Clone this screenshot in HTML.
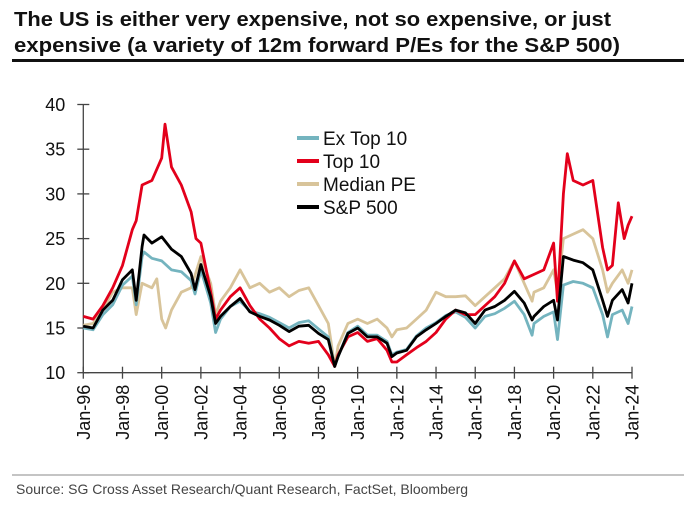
<!DOCTYPE html>
<html><head><meta charset="utf-8"><style>
body{margin:0;background:#fff;width:684px;height:504px;overflow:hidden;font-family:"Liberation Sans",sans-serif}
</style></head><body>
<svg id="chart" width="684" height="504" xmlns="http://www.w3.org/2000/svg">
<text x="14" y="26" font-size="20" font-weight="bold" fill="#111" textLength="597" lengthAdjust="spacingAndGlyphs">The US is either very expensive, not so expensive, or just</text>
<text x="14" y="52" font-size="20" font-weight="bold" fill="#111" textLength="606" lengthAdjust="spacingAndGlyphs">expensive (a variety of 12m forward P/Es for the S&amp;P 500)</text>
<rect x="12" y="59" width="672" height="3" fill="#111"/>
<g id="axes"></g>
<g id="series"></g>
<g id="legend"></g>
<line x1="12" y1="475" x2="684" y2="475" stroke="#888" stroke-width="1"/>
<text x="16" y="494" font-size="14" fill="#444">Source: SG Cross Asset Research/Quant Research, FactSet, Bloomberg</text>
</svg>
<script>
const yTicks=[10,15,20,25,30,35,40];
const xTickYears=[1996,1998,2000,2002,2004,2006,2008,2010,2012,2014,2016,2018,2020,2022,2024];
const xTickLabels=["Jan-96","Jan-98","Jan-00","Jan-02","Jan-04","Jan-06","Jan-08","Jan-10","Jan-12","Jan-14","Jan-16","Jan-18","Jan-20","Jan-22","Jan-24"];
const seriesNames=["Ex Top 10","Top 10","Median PE","S&P 500"];
const datesSP=[1996,1996.5,1997,1997.5,1998,1998.5,1998.7,1999,1999.1,1999.5,2000,2000.5,2001,2001.5,2001.7,2002,2002.5,2002.75,2003,2003.5,2004,2004.5,2005,2005.5,2006,2006.5,2007,2007.5,2008,2008.5,2008.83,2009,2009.5,2010,2010.5,2011,2011.5,2011.75,2012,2012.5,2013,2013.5,2014,2014.5,2015,2015.5,2016,2016.5,2017,2017.5,2018,2018.5,2018.9,2019,2019.5,2020,2020.2,2020.5,2021,2021.5,2022,2022.5,2022.75,2023,2023.5,2023.8,2024];
const valsSP=[15.2,15.0,17.0,18.1,20.4,21.5,18.1,24.1,25.4,24.5,25.2,23.8,23.0,21.1,19.3,22.1,18.5,15.5,16.3,17.4,18.3,16.8,16.3,15.9,15.3,14.6,15.2,15.3,14.4,13.7,10.7,11.8,14.4,15.0,14.0,14.0,13.3,11.8,12.2,12.5,14.0,14.8,15.5,16.3,17.0,16.7,15.5,17.0,17.4,18.1,19.1,17.8,15.9,16.3,17.4,18.1,15.9,23.0,22.6,22.3,21.5,18.1,16.3,18.1,19.3,17.8,20.0];
const valsEx=[15.0,14.8,16.5,17.6,19.8,20.8,17.6,23.0,23.5,22.8,22.5,21.5,21.3,20.3,18.8,21.5,17.8,14.5,16.0,17.4,18.0,16.9,16.6,16.2,15.6,15.0,15.6,15.8,14.9,14.0,10.7,11.8,14.5,15.2,14.2,14.2,13.5,12.0,12.3,12.6,14.1,15.0,15.6,16.4,16.8,16.2,15.0,16.3,16.6,17.2,18.0,16.5,14.2,15.5,16.3,16.8,13.7,19.8,20.2,20.0,19.5,16.5,14.0,16.5,17.0,15.5,17.4];
const datesTop=[1996,1996.5,1997,1997.5,1998,1998.5,1998.7,1999,1999.5,2000,2000.17,2000.5,2001,2001.5,2001.75,2002,2002.5,2002.75,2003,2003.5,2004,2004.5,2005,2005.5,2006,2006.5,2007,2007.5,2008,2008.5,2008.83,2009,2009.5,2010,2010.5,2011,2011.5,2011.75,2012,2012.5,2013,2013.5,2014,2014.5,2015,2015.5,2016,2016.5,2017,2017.5,2018,2018.5,2019,2019.5,2020,2020.2,2020.5,2020.7,2021,2021.5,2022,2022.5,2022.75,2023,2023.3,2023.6,2023.8,2024];
const valsTop=[16.3,16.0,17.5,19.5,22.0,26.0,27.0,31.0,31.5,34.0,37.8,33.0,31.0,28.0,25.0,24.5,19.0,16.0,17.0,18.5,19.5,17.5,16.0,15.0,13.8,13.0,13.5,13.3,13.5,12.0,10.7,12.0,14.0,14.5,13.5,13.8,12.5,11.2,11.2,12.0,12.8,13.5,14.5,16.0,17.0,16.5,16.5,17.5,18.5,20.0,22.5,20.5,21.0,21.5,24.5,18.0,30.0,34.5,31.5,31.0,31.5,24.0,21.5,22.0,29.0,25.0,26.5,27.5];
const datesMed=[1996,1996.5,1997,1997.5,1998,1998.5,1998.7,1999,1999.5,1999.75,2000,2000.2,2000.5,2001,2001.5,2002,2002.5,2002.75,2003,2003.5,2004,2004.5,2005,2005.5,2006,2006.5,2007,2007.5,2008,2008.5,2008.83,2009,2009.5,2010,2010.5,2011,2011.5,2011.75,2012,2012.5,2013,2013.5,2014,2014.5,2015,2015.5,2016,2016.5,2017,2017.5,2018,2018.5,2018.9,2019,2019.5,2020,2020.2,2020.5,2021,2021.5,2022,2022.5,2022.75,2023,2023.5,2023.8,2024];
const valsMed=[15.3,15.5,17.0,19.0,19.5,19.5,16.5,20.0,19.5,20.5,16.0,15.0,17.0,19.0,19.5,23.0,20.0,16.5,18.0,19.5,21.5,19.5,20.0,19.0,19.5,18.5,19.2,19.5,17.5,15.5,10.7,13.0,15.5,16.0,15.5,16.0,15.0,14.0,14.8,15.0,16.0,17.0,19.0,18.5,18.5,18.6,17.5,18.5,19.5,20.5,22.5,20.0,18.0,19.0,19.5,21.5,19.0,25.0,25.5,26.0,25.0,21.5,19.0,20.0,21.5,20.0,21.5];

const NS="http://www.w3.org/2000/svg";
const X0=83.3,X1=632,Y0=372.7,Y1=104.5;
function xs(yr){return X0+(yr-1996)/(2024-1996)*(X1-X0);}
function ys(v){return Y0-(v-10)/(40-10)*(Y0-Y1);}
function mk(tag,attrs,parent){const e=document.createElementNS(NS,tag);for(const k in attrs)e.setAttribute(k,attrs[k]);parent.appendChild(e);return e;}
const axes=document.getElementById('axes');
let a=mk('line',{x1:X0,y1:Y1,x2:X0,y2:Y0,stroke:'#444','stroke-width':1.3},axes);


a=mk('line',{x1:X0,y1:Y0,x2:X1,y2:Y0,stroke:'#444','stroke-width':1.3},axes);


yTicks.forEach(v=>{
  const t=mk('line',{x1:X0-6,x2:X0+6,y1:ys(v),y2:ys(v),stroke:'#444','stroke-width':1.3},axes);
  
  
  const l=mk('text',{x:X0-18,y:ys(v)+6.5,'text-anchor':'end','font-size':18,fill:'#111'},axes);
  l.textContent=v;
  
  
});
xTickYears.forEach((yr,i)=>{
  const x=xs(yr);
  const t=mk('line',{x1:x,x2:x,y1:Y0-6,y2:Y0+6,stroke:'#444','stroke-width':1.3},axes);
  
  
  const l=mk('text',{transform:`translate(${x+6.5},${Y0+12}) rotate(-90)`,'text-anchor':'end','font-size':18,fill:'#111'},axes);
  l.textContent=xTickLabels[i];
  
  
});
const sg=document.getElementById('series');
function line(dates,vals,color,name){
  const d=dates.map((t,i)=>(i?'L':'M')+xs(t).toFixed(1)+','+ys(vals[i]).toFixed(1)).join('');
  const p=mk('path',{d:d,fill:'none',stroke:color,'stroke-width':2.8,'stroke-linejoin':'round'},sg);
  
  
}
line(datesMed,valsMed,'#d8c49a','series-median-pe');
line(datesSP,valsEx,'#74b4bf','series-ex-top-10');
line(datesTop,valsTop,'#e3001b','series-top-10');
line(datesSP,valsSP,'#000000','series-sp500');
const lg=document.getElementById('legend');
const lcolors=['#74b4bf','#e3001b','#d8c49a','#000000'];
seriesNames.forEach((n,i)=>{
  const y=138+i*23;
  const g=mk('g',{},lg);
  
  
  mk('line',{x1:297,x2:319,y1:y,y2:y,stroke:lcolors[i],'stroke-width':4},g);
  const t=mk('text',{x:323,y:y+7,'font-size':19,fill:'#111'},g);
  t.textContent=n;
});
</script>
</body></html>
